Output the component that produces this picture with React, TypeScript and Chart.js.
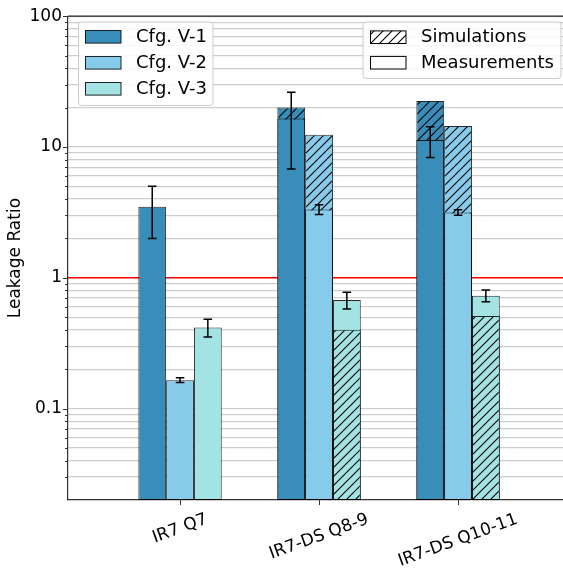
import React, { useEffect, useRef } from "react";
import { Chart, registerables } from "chart.js";

Chart.register(...registerables);

// ---- data ----
const categories = ["IR7 Q7", "IR7-DS Q8-9", "IR7-DS Q10-11"];
const configNames = ["Cfg. V-1", "Cfg. V-2", "Cfg. V-3"];
const configColors = ["#388EB8", "#87CBEB", "#A4E3E3"];

const measV1 = [3.5, 16.5, 11.3];
const measV2 = [0.165, 3.33, 3.16];
const measV3 = [0.417, 0.676, 0.73];

const errV1 = [1.5, 9.7, 3.0];
const errV2 = [0.007, 0.28, 0.15];
const errV3 = [0.064, 0.098, 0.075];

const simV1: (number | null)[] = [null, 20.0, 22.5];
const simV2: (number | null)[] = [null, 12.4, 14.5];
const simV3: (number | null)[] = [null, 0.4, 0.51];

const yMajorTicks = [0.1, 1, 10, 100];
const yMinorTicks = [
  0.03, 0.04, 0.05, 0.06, 0.07, 0.08, 0.09,
  0.2, 0.3, 0.4, 0.5, 0.6, 0.7, 0.8, 0.9,
  2, 3, 4, 5, 6, 7, 8, 9,
  20, 30, 40, 50, 60, 70, 80, 90,
];
const yMin = 0.02;
const yMax = 100;
const referenceLine = 1;
const typeLegend = ["Simulations", "Measurements"];
const yTitle = "Leakage Ratio";

const FONT = "'DejaVu Sans', 'Liberation Sans', sans-serif";

function makeHatch(bg: string) {
  const size = 9;
  const c = document.createElement("canvas");
  c.width = size;
  c.height = size;
  const g = c.getContext("2d")!;
  g.fillStyle = bg;
  g.fillRect(0, 0, size, size);
  g.strokeStyle = "#000";
  g.lineWidth = 1.1;
  g.beginPath();
  g.moveTo(0, size);
  g.lineTo(size, 0);
  g.moveTo(-2, 2);
  g.lineTo(2, -2);
  g.moveTo(size - 2, size + 2);
  g.lineTo(size + 2, size - 2);
  g.stroke();
  return g.createPattern(c, "repeat")!;
}

function roundRect(ctx: CanvasRenderingContext2D, x: number, y: number, w: number, h: number, r: number) {
  ctx.beginPath();
  ctx.moveTo(x + r, y);
  ctx.lineTo(x + w - r, y);
  ctx.quadraticCurveTo(x + w, y, x + w, y + r);
  ctx.lineTo(x + w, y + h - r);
  ctx.quadraticCurveTo(x + w, y + h, x + w - r, y + h);
  ctx.lineTo(x + r, y + h);
  ctx.quadraticCurveTo(x, y + h, x, y + h - r);
  ctx.lineTo(x, y + r);
  ctx.quadraticCurveTo(x, y, x + r, y);
  ctx.closePath();
}

export default function App() {
  const ref = useRef<HTMLCanvasElement>(null);

  useEffect(() => {
    const canvas = ref.current;
    if (!canvas) return;

    const meas = [measV1, measV2, measV3];
    const errs = [errV1, errV2, errV3];
    const sims = [simV1, simV2, simV3];
    const hatches = configColors.map((c) => makeHatch(c));
    const whiteHatch = makeHatch("#ffffff");

    const datasets: any[] = [];
    for (let c = 0; c < 3; c++) {
      const m = meas[c];
      const s = sims[c];
      const backIsSim = categories.map((_, i) => s[i] != null && (s[i] as number) > m[i]);
      const frontIsSim = categories.map((_, i) => s[i] != null && (s[i] as number) <= m[i]);
      const back = categories.map((_, i) => ({
        x: i,
        y: s[i] != null ? Math.max(s[i] as number, m[i]) : m[i],
      }));
      const front = categories.map((_, i) => ({
        x: i,
        y: s[i] != null ? Math.min(s[i] as number, m[i]) : null,
      }));
      const common = {
        stack: "c" + c,
        borderColor: "rgba(0,0,0,0.85)",
        borderWidth: 1,
        borderSkipped: false,
        categoryPercentage: 0.6,
        barPercentage: 1,
      };
      datasets.push({
        ...common,
        label: configNames[c] + " back",
        data: back,
        order: 1,
        backgroundColor: (ctx: any) => (backIsSim[ctx.dataIndex] ? hatches[c] : configColors[c]),
      });
      datasets.push({
        ...common,
        label: configNames[c] + " front",
        data: front,
        order: 0,
        backgroundColor: (ctx: any) => (frontIsSim[ctx.dataIndex] ? hatches[c] : configColors[c]),
      });
    }

    const overlay = {
      id: "overlay",
      beforeDatasetsDraw(chart: any) {
        const { ctx, chartArea } = chart;
        const y = chart.scales.y;
        const py = y.getPixelForValue(referenceLine);
        ctx.save();
        ctx.strokeStyle = "#ff0000";
        ctx.lineWidth = 1.5;
        ctx.beginPath();
        ctx.moveTo(chartArea.left, py);
        ctx.lineTo(chartArea.right, py);
        ctx.stroke();
        ctx.restore();
      },
      afterDatasetsDraw(chart: any) {
        const { ctx } = chart;
        const y = chart.scales.y;
        ctx.save();
        ctx.strokeStyle = "#000";
        ctx.lineWidth = 1.5;
        for (let c = 0; c < 3; c++) {
          const meta = chart.getDatasetMeta(2 * c);
          categories.forEach((_, i) => {
            const el = meta.data[i];
            if (!el) return;
            const x = el.x;
            const hi = y.getPixelForValue(meas[c][i] + errs[c][i]);
            const lo = y.getPixelForValue(meas[c][i] - errs[c][i]);
            ctx.beginPath();
            ctx.moveTo(x, hi);
            ctx.lineTo(x, lo);
            ctx.moveTo(x - 4.3, hi);
            ctx.lineTo(x + 4.3, hi);
            ctx.moveTo(x - 4.3, lo);
            ctx.lineTo(x + 4.3, lo);
            ctx.stroke();
          });
        }
        ctx.restore();
      },
      afterDraw(chart: any) {
        const { ctx, chartArea } = chart;
        const xs = chart.scales.x;
        const ys = chart.scales.y;
        ctx.save();
        // top spine
        ctx.strokeStyle = "#222";
        ctx.lineWidth = 1.2;
        ctx.beginPath();
        ctx.moveTo(chartArea.left, chartArea.top);
        ctx.lineTo(chartArea.right, chartArea.top);
        ctx.stroke();
        // y tick marks
        ctx.strokeStyle = "#333";
        ctx.lineWidth = 1;
        ys.ticks.forEach((t: any) => {
          const py = Math.round(ys.getPixelForValue(t.value)) + 0.5;
          const len = yMajorTicks.includes(t.value) ? 5 : 3;
          ctx.beginPath();
          ctx.moveTo(chartArea.left - len, py);
          ctx.lineTo(chartArea.left, py);
          ctx.stroke();
        });
        // x tick marks and labels
        ctx.font = "17px " + FONT;
        ctx.fillStyle = "#000";
        const ang = (20 * Math.PI) / 180;
        categories.forEach((label, i) => {
          const px = Math.round(xs.getPixelForValue(i)) + 0.5;
          ctx.beginPath();
          ctx.moveTo(px, chartArea.bottom);
          ctx.lineTo(px, chartArea.bottom + 5);
          ctx.stroke();
          const w = ctx.measureText(label).width;
          const h = 20;
          const bh = w * Math.sin(ang) + h * Math.cos(ang);
          const cy = chartArea.bottom + 9.5 + bh / 2;
          ctx.save();
          ctx.translate(xs.getPixelForValue(i), cy);
          ctx.rotate(-ang);
          ctx.textAlign = "center";
          ctx.textBaseline = "middle";
          ctx.fillText(label, 0, 0);
          ctx.restore();
        });

        // legend 1: configurations
        ctx.font = "18px " + FONT;
        ctx.textAlign = "left";
        ctx.textBaseline = "middle";
        roundRect(ctx, 78.5, 22, 134.5, 83.5, 3);
        ctx.fillStyle = "rgba(255,255,255,0.85)";
        ctx.fill();
        ctx.strokeStyle = "#cccccc";
        ctx.lineWidth = 1;
        ctx.stroke();
        configNames.forEach((name, c) => {
          const cy = 36.8 + 26 * c;
          ctx.fillStyle = configColors[c];
          ctx.fillRect(85, cy - 6.3, 36, 12.6);
          ctx.strokeStyle = "rgba(0,0,0,0.85)";
          ctx.lineWidth = 1;
          ctx.strokeRect(85.5, cy - 6.3, 35.5, 12.6);
          ctx.fillStyle = "#000";
          ctx.fillText(name, 136, cy + 0.5);
        });

        // legend 2: type
        roundRect(ctx, 363, 22, 198, 56.5, 3);
        ctx.fillStyle = "rgba(255,255,255,0.85)";
        ctx.fill();
        ctx.strokeStyle = "#cccccc";
        ctx.lineWidth = 1;
        ctx.stroke();
        typeLegend.forEach((name, r) => {
          const cy = 37.2 + 25.5 * r;
          ctx.fillStyle = r === 0 ? whiteHatch : "#ffffff";
          ctx.fillRect(370, cy - 6.3, 36, 12.6);
          ctx.strokeStyle = "#000";
          ctx.lineWidth = 1;
          ctx.strokeRect(370.5, cy - 6.3, 35.5, 12.6);
          ctx.fillStyle = "#000";
          ctx.fillText(name, 421, cy + 0.5);
        });
        ctx.restore();
      },
    };

    const allYTicks = [...yMinorTicks, ...yMajorTicks].sort((a, b) => a - b);

    const chart = new Chart(canvas, {
      type: "bar",
      data: { datasets },
      options: {
        responsive: false,
        animation: false,
        layout: { padding: { top: 13, left: 0, right: 0, bottom: 0 } },
        plugins: { legend: { display: false }, tooltip: { enabled: false } },
        scales: {
          x: {
            type: "linear",
            min: -0.806,
            max: 2.755,
            offset: false,
            grid: { display: false },
            ticks: { display: false },
            border: { display: true, color: "#333", width: 1.2 },
            afterBuildTicks: (s: any) => {
              s.ticks = categories.map((_, i) => ({ value: i }));
            },
            afterFit: (s: any) => {
              s.height = 71;
            },
          },
          y: {
            type: "logarithmic",
            min: yMin,
            max: yMax,
            stacked: false,
            grid: { color: "#cdcdcd", lineWidth: 1.3, drawTicks: false },
            border: { display: true, color: "#333", width: 1.2 },
            ticks: {
              autoSkip: false,
              padding: 6,
              color: "#000",
              font: { family: FONT, size: 17 },
              callback: (v: any) => (yMajorTicks.includes(v) ? String(v) : ""),
            },
            afterBuildTicks: (s: any) => {
              s.ticks = allYTicks.map((v) => ({ value: v, major: yMajorTicks.includes(v) }));
            },
            title: {
              display: true,
              text: yTitle,
              color: "#000",
              font: { family: FONT, size: 17 },
              padding: { top: 5, bottom: 0 },
            },
            afterFit: (s: any) => {
              s.width = 68;
            },
          },
        },
      } as any,
      plugins: [overlay],
    });

    return () => chart.destroy();
  }, []);

  return (
    <div style={{ position: "absolute", left: 0, top: 0, width: 563, height: 571, background: "#fff" }}>
      <canvas ref={ref} width={563} height={571} style={{ display: "block", width: 563, height: 571 }} />
    </div>
  );
}
